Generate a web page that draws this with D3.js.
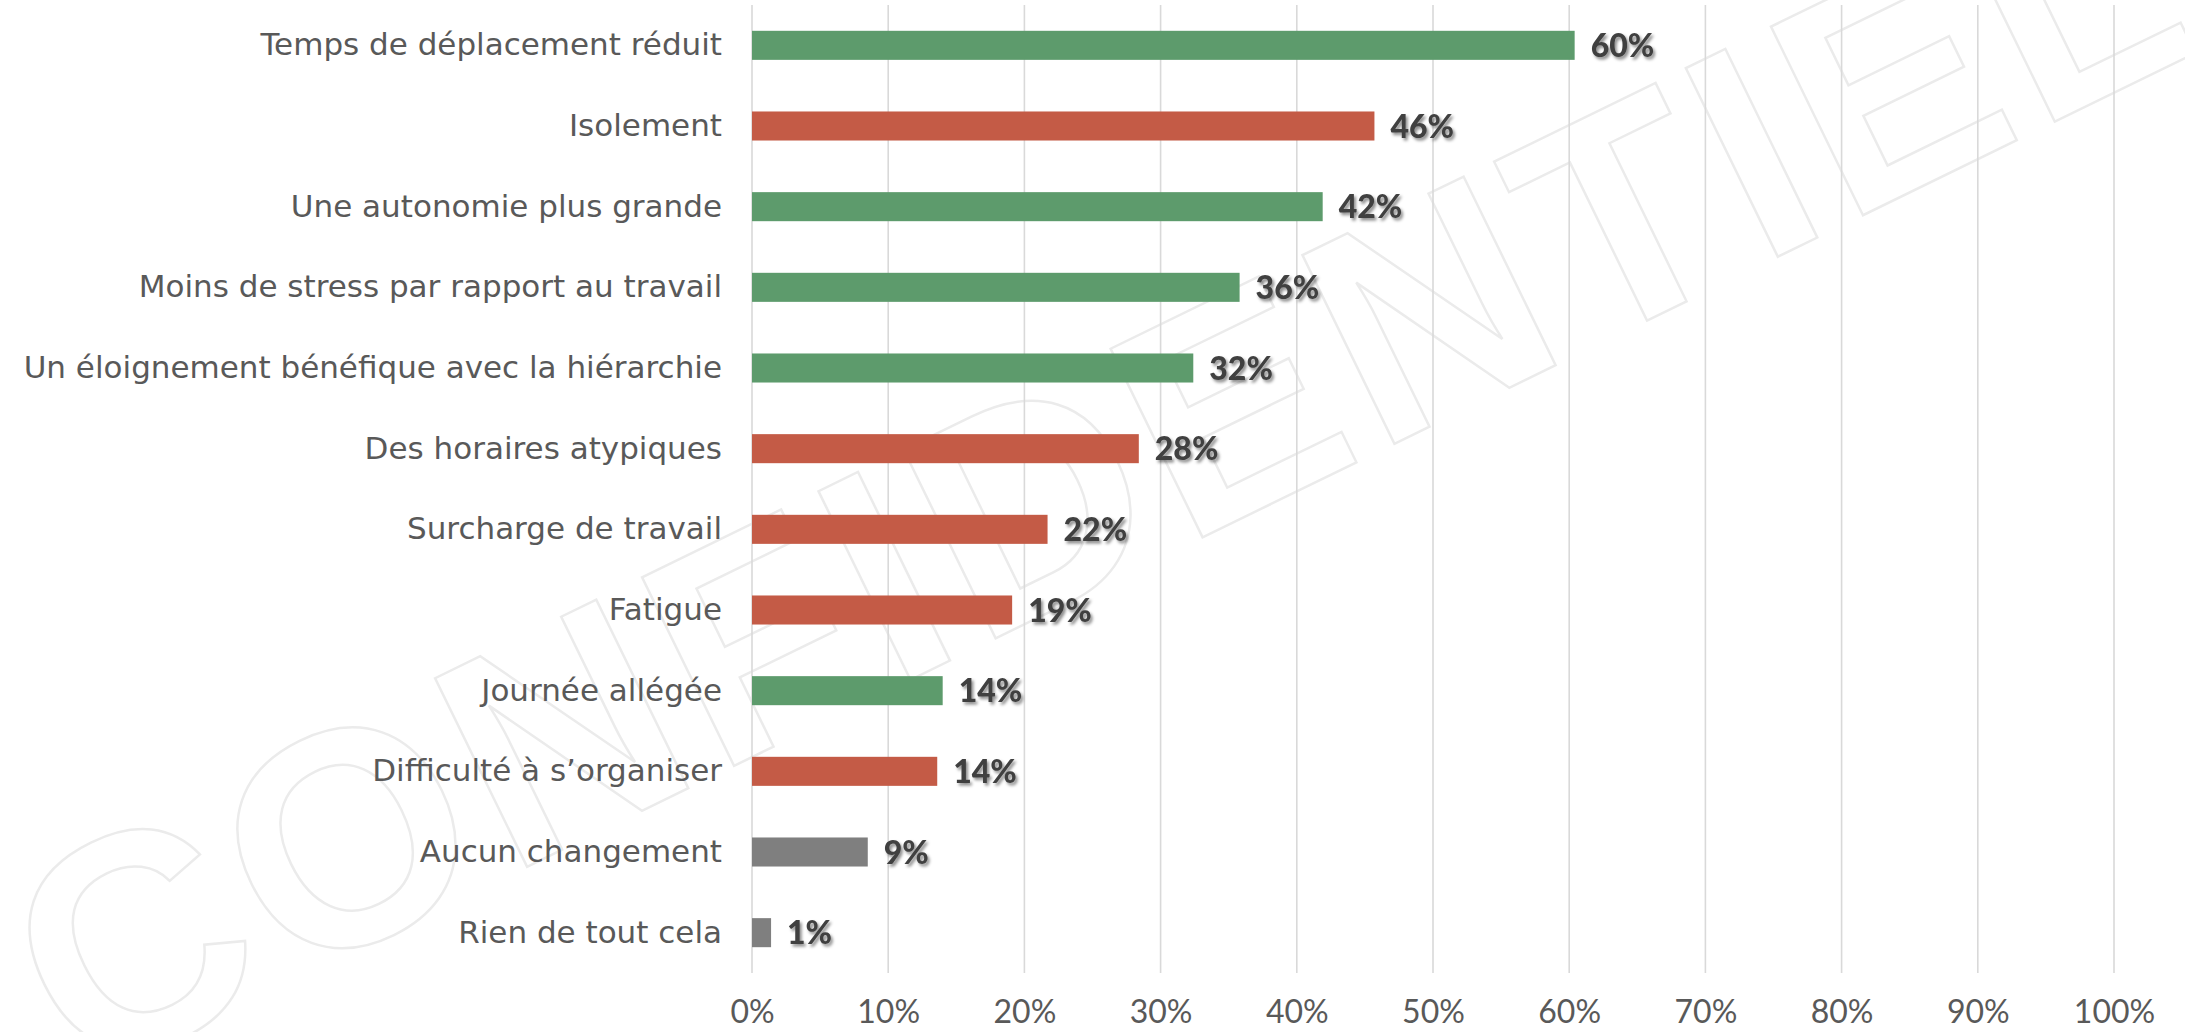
<!DOCTYPE html>
<html>
<head>
<meta charset="utf-8">
<script src="https://cdn.jsdelivr.net/npm/d3@7/dist/d3.min.js"></script>
<style>
html,body{margin:0;padding:0;background:#fff;}
svg{display:block;}
</style>
</head>
<body>
<svg id="chart" width="2185" height="1032"></svg>
<script>
const categories = [
  "Temps de déplacement réduit",
  "Isolement",
  "Une autonomie plus grande",
  "Moins de stress par rapport au travail",
  "Un éloignement bénéfique avec la hiérarchie",
  "Des horaires atypiques",
  "Surcharge de travail",
  "Fatigue",
  "Journée allégée",
  "Difficulté à s’organiser",
  "Aucun changement",
  "Rien de tout cela"
];
const values = [60.4, 45.7, 41.9, 35.8, 32.4, 28.4, 21.7, 19.1, 14.0, 13.6, 8.5, 1.4];
const valueLabels = ["60%", "46%", "42%", "36%", "32%", "28%", "22%", "19%", "14%", "14%", "9%", "1%"];
const kinds = ["pos", "neg", "pos", "pos", "pos", "neg", "neg", "neg", "pos", "neg", "neu", "neu"];
const tickValues = [0, 10, 20, 30, 40, 50, 60, 70, 80, 90, 100];
const tickLabels = ["0%", "10%", "20%", "30%", "40%", "50%", "60%", "70%", "80%", "90%", "100%"];
const watermark = "CONFIDENTIEL";

const colors = {pos: "#5D9B6C", neg: "#C45B46", neu: "#7F7F7F"};

const svg = d3.select("#chart");
const W = 2185, H = 1032;
const m = {left: 752, right: 71, top: 5, bottom: 59};

const x = d3.scaleLinear().domain([0, 100]).range([m.left, W - m.right]);
const y = d3.scaleBand().domain(categories).range([m.top, H - m.bottom])
  .paddingInner(0.64).paddingOuter(0.32);

// watermark
const wm = svg.append("g").attr("transform", "translate(1100,470) rotate(-26)");
wm.append("text")
  .attr("text-anchor", "middle")
  .attr("dominant-baseline", "central")
  .attr("font-family", "'Liberation Sans', Arial, sans-serif")
  .attr("font-weight", "bold")
  .attr("font-size", 305)
  .attr("fill", "none")
  .attr("stroke", "#ebebeb")
  .attr("stroke-width", 2.5)
  .attr("letter-spacing", 10)
  .text(watermark);

// gridlines
svg.append("g").selectAll("line").data(tickValues).join("line")
  .attr("x1", d => x(d)).attr("x2", d => x(d))
  .attr("y1", m.top).attr("y2", H - m.bottom)
  .attr("stroke", "#d9d9d9").attr("stroke-width", 1.6);

// x axis labels
const xAxis = d3.axisBottom(x).tickValues(tickValues)
  .tickFormat((d, i) => tickLabels[i]).tickSize(0).tickPadding(0);
const gx = svg.append("g").attr("transform", `translate(0,${H - m.bottom})`).call(xAxis);
gx.select(".domain").remove();
gx.selectAll("text")
  .attr("y", 0).attr("dy", 0)
  .attr("transform", "translate(0,50)")
  .attr("font-family", "'Century Gothic', Lato, sans-serif")
  .attr("font-size", 32)
  .attr("fill", "#595959");

// y axis labels
const yAxis = d3.axisLeft(y).tickSize(0).tickPadding(30);
const gy = svg.append("g").attr("transform", `translate(${m.left},0)`).call(yAxis);
gy.select(".domain").remove();
gy.selectAll("text")
  .attr("font-family", "'Century Gothic', 'DejaVu Sans', sans-serif")
  .attr("font-weight", 400)
  .attr("font-size", 31)
  .attr("fill", "#595959");

// shadow filter
const defs = svg.append("defs");
const f = defs.append("filter").attr("id", "shadow").attr("x", "-20%").attr("y", "-20%").attr("width", "150%").attr("height", "160%");
f.append("feDropShadow").attr("dx", 2).attr("dy", 2.5).attr("stdDeviation", 1.5)
  .attr("flood-color", "#000").attr("flood-opacity", 0.45);

// bars
svg.append("g").selectAll("rect").data(categories).join("rect")
  .attr("x", x(0))
  .attr("y", d => y(d))
  .attr("width", (d, i) => x(values[i]) - x(0))
  .attr("height", y.bandwidth())
  .attr("fill", (d, i) => colors[kinds[i]]);

// value labels
svg.append("g").selectAll("text").data(categories).join("text")
  .attr("x", (d, i) => x(values[i]) + 16)
  .attr("y", d => y(d) + y.bandwidth() / 2)
  .attr("dy", "0.36em")
  .attr("font-family", "Lato, sans-serif")
  .attr("font-weight", 900)
  .attr("font-size", 32)
  .attr("fill", "#404040")
  .attr("filter", "url(#shadow)")
  .text((d, i) => valueLabels[i]);
</script>
</body>
</html>
